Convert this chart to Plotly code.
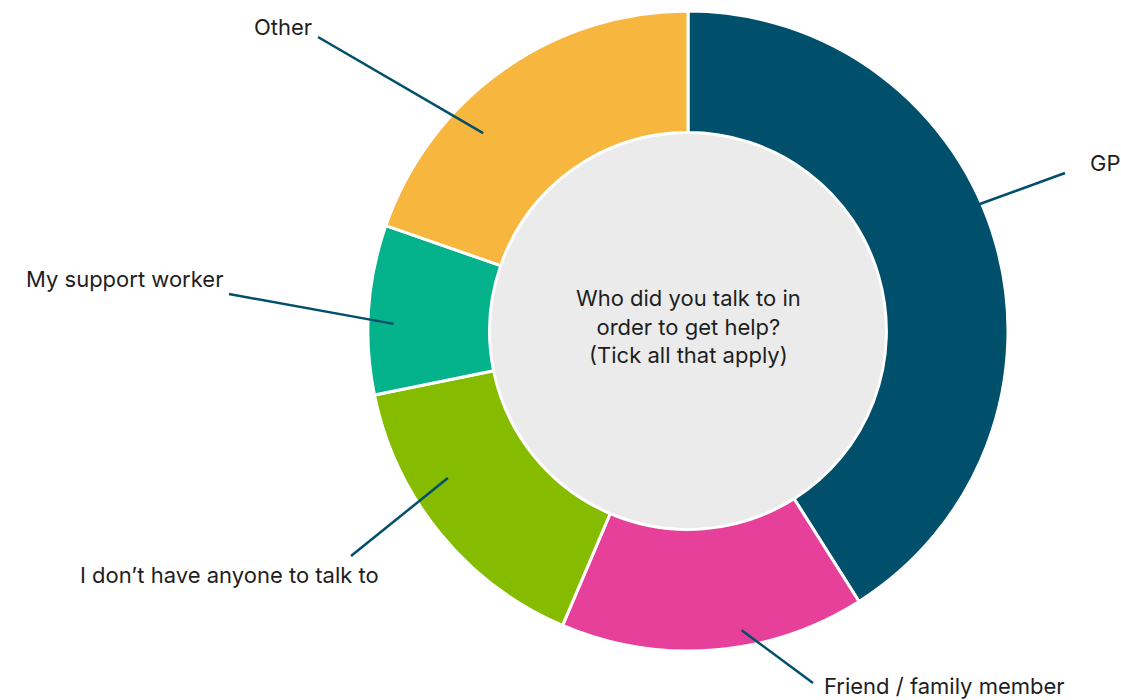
import math
import plotly.graph_objects as go

# Survey responses: who respondents talked to in order to get help
categories = ["GP", "Friend / family member", "I don\u2019t have anyone to talk to",
              "My support worker", "Other"]
responses = [48, 18, 18, 10, 23]
colors = ["#00506B", "#E6409A", "#86BC00", "#04B28C", "#F7B73F"]

center_text = "Who did you talk to in<br>order to get help?<br>(Tick all that apply)"

# Canvas and ring geometry (pixels)
W, H = 1121, 700
CX, CY = 688, 331
R_OUT = 320
HOLE = 0.62
R_FILL = 197

# Leader-line anchor inside each slice: fraction of the slice's sweep, fraction of the outer radius
anchor_frac = [0.45, 0.40, 0.64, 0.42, 0.35]
anchor_rad = [0.99, 0.95, 0.88, 0.92, 0.89]
# Outer end of each leader line and label placement (pixels)
line_end = [(1065, 173), (813, 683), (351, 556), (229, 294), (318, 37)]
label_pos = [(1088, 163), (822, 686), (381, 575), (225, 279), (314, 27)]
label_anchor = ["left", "left", "right", "right", "right"]


def px(x):
    return x / W


def py(y):
    return 1 - y / H


fig = go.Figure()

fig.add_trace(go.Pie(
    labels=categories,
    values=responses,
    hole=HOLE,
    sort=False,
    direction="clockwise",
    rotation=0,
    textinfo="none",
    marker=dict(colors=colors, line=dict(color="white", width=3)),
    domain=dict(x=[px(CX - R_OUT), px(CX + R_OUT)],
                y=[py(CY + R_OUT), py(CY - R_OUT)]),
    showlegend=False,
    hoverinfo="label+value+percent",
))

# Light grey disc filling the centre of the ring
fig.add_trace(go.Pie(
    values=[1],
    labels=[""],
    sort=False,
    textinfo="none",
    marker=dict(colors=["#EBEBEB"], line=dict(width=0)),
    domain=dict(x=[px(CX - R_FILL), px(CX + R_FILL)],
                y=[py(CY + R_FILL), py(CY - R_FILL)]),
    showlegend=False,
    hoverinfo="skip",
))

total = sum(responses)
start = 0.0
shapes = []
annotations = []
for i, v in enumerate(responses):
    sweep = 360.0 * v / total
    ang = math.radians(start + anchor_frac[i] * sweep)
    r = anchor_rad[i] * R_OUT
    x0 = CX + r * math.sin(ang)
    y0 = CY - r * math.cos(ang)
    x1, y1 = line_end[i]
    shapes.append(dict(type="line", xref="paper", yref="paper",
                       x0=px(x0), y0=py(y0), x1=px(x1), y1=py(y1),
                       line=dict(color="#00506B", width=2.5)))
    lx, ly = label_pos[i]
    annotations.append(dict(x=px(lx), y=py(ly), xref="paper", yref="paper",
                            text=categories[i], showarrow=False,
                            xanchor=label_anchor[i], yanchor="middle",
                            font=dict(size=22, color="#1E1E1E")))
    start += sweep

annotations.append(dict(x=px(CX), y=py(CY - 4), xref="paper", yref="paper",
                        text=center_text, showarrow=False,
                        xanchor="center", yanchor="middle",
                        font=dict(size=22, color="#1E1E1E")))

fig.update_layout(
    width=W, height=H,
    margin=dict(l=0, r=0, t=0, b=0),
    paper_bgcolor="white",
    plot_bgcolor="white",
    font=dict(family="Inter, Open Sans, sans-serif"),
    shapes=shapes,
    annotations=annotations,
)

fig.write_html("out.html")
